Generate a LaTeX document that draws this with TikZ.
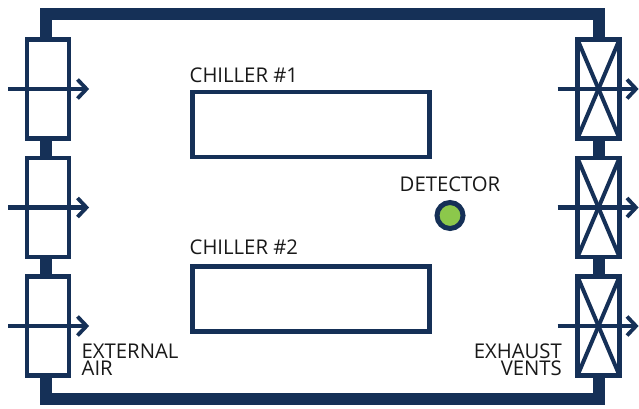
\documentclass[tikz,border=0pt]{standalone}
\usepackage{fontspec}
\setmainfont{Open Sans}
\usetikzlibrary{calc}
\definecolor{navy}{HTML}{153057}
\definecolor{leaf}{HTML}{8CC84B}
\tikzset{
  x=1pt,y=-1pt,
  wall/.style={draw=navy,line width=12pt,line join=miter},
  unitbox/.style={draw=navy,fill=white,line width=4.2pt,minimum width=42pt,minimum height=99pt,inner sep=0pt,outer sep=0pt},
  chiller/.style={draw=navy,line width=4.5pt,minimum width=237pt,minimum height=65pt,inner sep=0pt,outer sep=0pt},
  flow/.style={draw=navy,line width=4.2pt},
  tip/.style={draw=navy,line width=3.8pt,line cap=butt,line join=miter},
  cross/.style={draw=navy,line width=4pt},
  lbl/.style={text=black!90,font=\fontsize{20.3}{21}\selectfont,inner sep=0pt,align=left},
}
\newcommand{\flowline}[3]{%
  \coordinate (f#1a) at (#2,#3);
  \coordinate (f#1b) at (#2+78.5,#3);
  \draw[flow] (f#1a) -- (f#1b);
  \draw[tip] ($(f#1b)+(-9,-9.5)$) -- (f#1b) -- ($(f#1b)+(-9,9.5)$);
}
\begin{document}
\begin{tikzpicture}
\useasboundingbox (0,0) rectangle (639,409);
\fill[white] (0,0) rectangle (639,409);
\draw[wall] (46,14) rectangle (599,399);
\node[unitbox] (l1) at (48,89) {};
\node[unitbox] (l2) at (48,207.5) {};
\node[unitbox] (l3) at (48,326) {};
\node[unitbox] (r1) at (598.5,89) {};
\node[unitbox] (r2) at (598.5,207.5) {};
\node[unitbox] (r3) at (598.5,326) {};
\foreach \n in {r1,r2,r3}{
  \draw[cross] (\n.north west) -- (\n.south east);
  \draw[cross] (\n.north east) -- (\n.south west);
}
\flowline{a}{8}{89}
\flowline{b}{8}{207.5}
\flowline{c}{8}{326}
\flowline{d}{557.5}{89}
\flowline{e}{557.5}{207.5}
\flowline{f}{557.5}{326}
\node[chiller] (c1) at (310.8,124.6) {};
\node[chiller] (c2) at (310.8,299.2) {};
\node[lbl,anchor=base west] (t1) at (189.5,82.5) {CHILLER \#1};
\node[lbl,anchor=base west] (t2) at (189.5,254.5) {CHILLER \#2};
\node[lbl,anchor=base] (t3) at (450,191) {DETECTOR};
\node[circle,draw=navy,fill=leaf,line width=5pt,minimum size=26pt,inner sep=0pt] (det) at (450,215.5) {};
\node[lbl,anchor=base west] (t4) at (81.5,358) {EXTERNAL};
\node[lbl,anchor=base west] (t5) at (81.5,375.5) {AIR};
\node[lbl,anchor=base east] (t6) at (562,358) {EXHAUST};
\node[lbl,anchor=base east] (t7) at (562,375.5) {VENTS};
\end{tikzpicture}
\end{document}
